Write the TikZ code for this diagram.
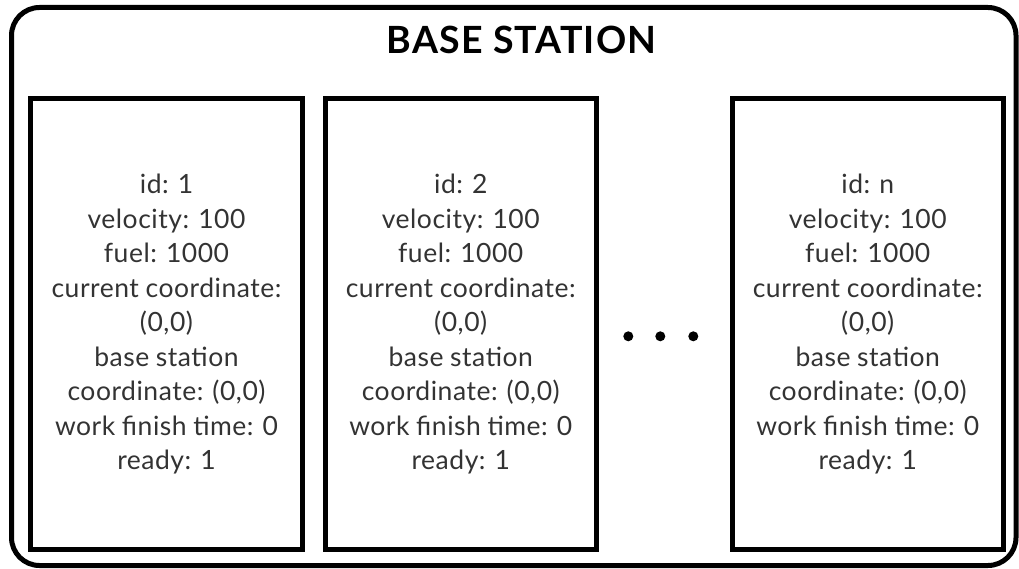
\documentclass[tikz,border=0pt]{standalone}
\usepackage{fontspec}
\setmainfont{Lato}
\newfontfamily\bodyfont[LetterSpace=2,WordSpace=0.9]{Lato}
\newfontfamily\titlefont[LetterSpace=3]{Lato Bold}
\definecolor{txt}{HTML}{333333}
\tikzset{
  frame/.style={draw=black, line width=5pt},
  agent/.style={frame, minimum width=#1, minimum height=450.5pt, inner sep=0pt},
  info/.style={align=center, text=txt, font=\bodyfont\fontsize{26.5}{34.5}\selectfont},
  dot/.style={circle, fill=black, inner sep=0pt, minimum size=10pt}
}
\begin{document}
\begin{tikzpicture}[x=1pt,y=-1pt]
\useasboundingbox (0,0) rectangle (1019,569);
\draw[frame, rounded corners=28pt] (11.5,7.5) rectangle (1016,565.5);
\node[font=\titlefont\fontsize{37.5}{44}\selectfont, anchor=base, inner sep=0pt] (title) at (521.7,53.3) {BASE STATION};
\node[agent=272pt] (box1) at (166.5,324.25) {};
\node[agent=271.5pt] (box2) at (460.75,324.25) {};
\node[agent=270.5pt] (boxn) at (867.75,324.25) {};
\node[info] (t1) at (box1.center) {id: 1\\velocity: 100\\fuel: 1000\\current coordinate:\\(0,0)\\base station\\coordinate: (0,0)\\work finish time: 0\\ready: 1};
\node[info] (t2) at (box2.center) {id: 2\\velocity: 100\\fuel: 1000\\current coordinate:\\(0,0)\\base station\\coordinate: (0,0)\\work finish time: 0\\ready: 1};
\node[info] (tn) at (boxn.center) {id: n\\velocity: 100\\fuel: 1000\\current coordinate:\\(0,0)\\base station\\coordinate: (0,0)\\work finish time: 0\\ready: 1};
\node[dot] (d1) at (628.3,336.3) {};
\node[dot] (d2) at (660.3,336.3) {};
\node[dot] (d3) at (693.3,336.3) {};
\end{tikzpicture}
\end{document}
